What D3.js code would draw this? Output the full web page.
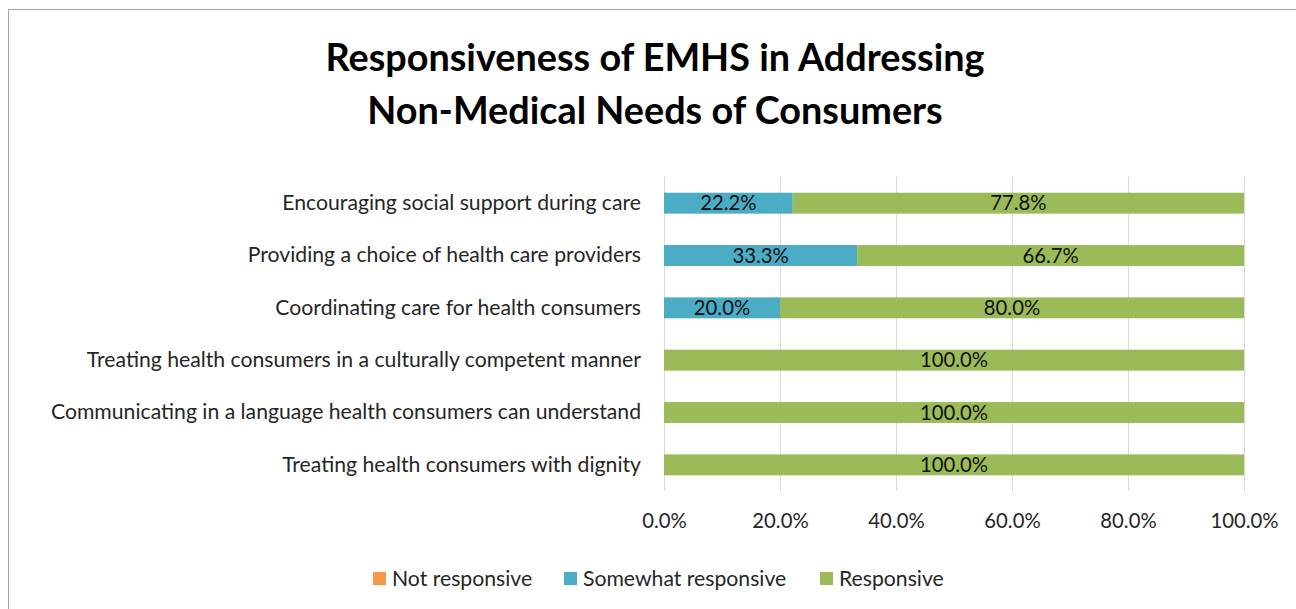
<!DOCTYPE html>
<html>
<head>
<meta charset="utf-8">
<script src="https://cdn.jsdelivr.net/npm/d3@7/dist/d3.min.js"></script>
<style>
  html, body { margin: 0; padding: 0; background: #fff; }
  svg { display: block; }
  text { font-family: Lato, "Open Sans", sans-serif; }
</style>
</head>
<body>
<svg id="chart" width="1296" height="609"></svg>
<script>
// Survey categories, top to bottom
const categories = [
  "Encouraging social support during care",
  "Providing a choice of health care providers",
  "Coordinating care for health consumers",
  "Treating health consumers in a culturally competent manner",
  "Communicating in a language health consumers can understand",
  "Treating health consumers with dignity"
];
// Share of responses per category (percent)
const notResponsive      = [0, 0, 0, 0, 0, 0];
const somewhatResponsive = [22.2, 33.3, 20.0, 0, 0, 0];
const responsive         = [77.8, 66.7, 80.0, 100.0, 100.0, 100.0];

const seriesNames = ["Not responsive", "Somewhat responsive", "Responsive"];
const seriesColors = ["#F79646", "#4BACC6", "#9BBB59"];
const tickValues = [0, 20, 40, 60, 80, 100];

const titleLines = [
  "Responsiveness of EMHS in Addressing",
  "Non-Medical Needs of Consumers"
];

const svg = d3.select("#chart");
const W = 1296, H = 609;
const FONT = "Lato, 'Open Sans', sans-serif";

// Chart frame
svg.append("rect")
  .attr("x", 8.5).attr("y", 9.5)
  .attr("width", W + 10).attr("height", H + 10)
  .attr("fill", "#fff").attr("stroke", "#a6a6a6").attr("stroke-width", 1);

// Title
const title = svg.append("text")
  .attr("text-anchor", "middle")
  .attr("font-weight", "bold")
  .attr("font-size", 37.8)
  .attr("fill", "#000");
titleLines.forEach((line, i) => {
  title.append("tspan")
    .attr("x", 655).attr("y", 71 + i * 53)
    .text(line);
});

const plot = { left: 664, right: 1244, top: 177, bottom: 491 };

const x = d3.scaleLinear().domain([0, 100]).range([plot.left, plot.right]);
const y = d3.scaleBand().domain(categories)
  .range([plot.top, plot.bottom]).paddingInner(0.6).paddingOuter(0.3);

// Vertical gridlines
svg.append("g")
  .selectAll("line")
  .data(tickValues)
  .join("line")
  .attr("x1", d => x(d) + 0.5).attr("x2", d => x(d) + 0.5)
  .attr("y1", plot.top).attr("y2", plot.bottom)
  .attr("stroke", "#d9d9d9").attr("stroke-width", 1);

// Stacked series
const rows = categories.map((c, i) => ({
  category: c,
  "Not responsive": notResponsive[i],
  "Somewhat responsive": somewhatResponsive[i],
  "Responsive": responsive[i]
}));
const stacked = d3.stack().keys(seriesNames)(rows);

const layers = svg.append("g")
  .selectAll("g")
  .data(stacked)
  .join("g")
  .attr("fill", (d, i) => seriesColors[i]);

layers.selectAll("rect")
  .data(d => d)
  .join("rect")
  .attr("x", d => x(d[0]))
  .attr("y", d => y(d.data.category))
  .attr("width", d => x(d[1]) - x(d[0]))
  .attr("height", y.bandwidth());

// Value labels centred in each non-empty segment
layers.selectAll("text")
  .data(d => d.filter(s => s[1] - s[0] > 0))
  .join("text")
  .attr("x", d => (x(d[0]) + x(d[1])) / 2)
  .attr("y", d => y(d.data.category) + y.bandwidth() / 2)
  .attr("dy", "0.36em")
  .attr("text-anchor", "middle")
  .attr("font-size", 20.3)
  .attr("fill", "#111")
  .text(d => (d[1] - d[0]).toFixed(1) + "%");

// Category axis
const yAxis = svg.append("g")
  .attr("transform", `translate(${plot.left},0)`)
  .call(d3.axisLeft(y).tickSize(0).tickPadding(23));
yAxis.select(".domain").remove();
yAxis.selectAll("text")
  .attr("font-size", 21.2)
  .attr("fill", "#262626")
  .style("font-family", FONT);

// Value axis
const xAxis = svg.append("g")
  .attr("transform", `translate(0,${plot.bottom})`)
  .call(d3.axisBottom(x).tickValues(tickValues).tickSize(0).tickPadding(23)
    .tickFormat(d => d.toFixed(1) + "%"));
xAxis.select(".domain").remove();
xAxis.selectAll("text")
  .attr("font-size", 20.3)
  .attr("fill", "#262626")
  .style("font-family", FONT);

// Legend
const legendX = [373, 564, 820];
const legend = svg.append("g")
  .selectAll("g")
  .data(seriesNames)
  .join("g")
  .attr("transform", (d, i) => `translate(${legendX[i]},578.5)`);
legend.append("rect")
  .attr("x", 0).attr("y", -6.5)
  .attr("width", 13).attr("height", 13)
  .attr("fill", (d, i) => seriesColors[i]);
legend.append("text")
  .attr("x", 19).attr("dy", "0.36em")
  .attr("font-size", 21.2)
  .attr("fill", "#262626")
  .text(d => d);
</script>
</body>
</html>
